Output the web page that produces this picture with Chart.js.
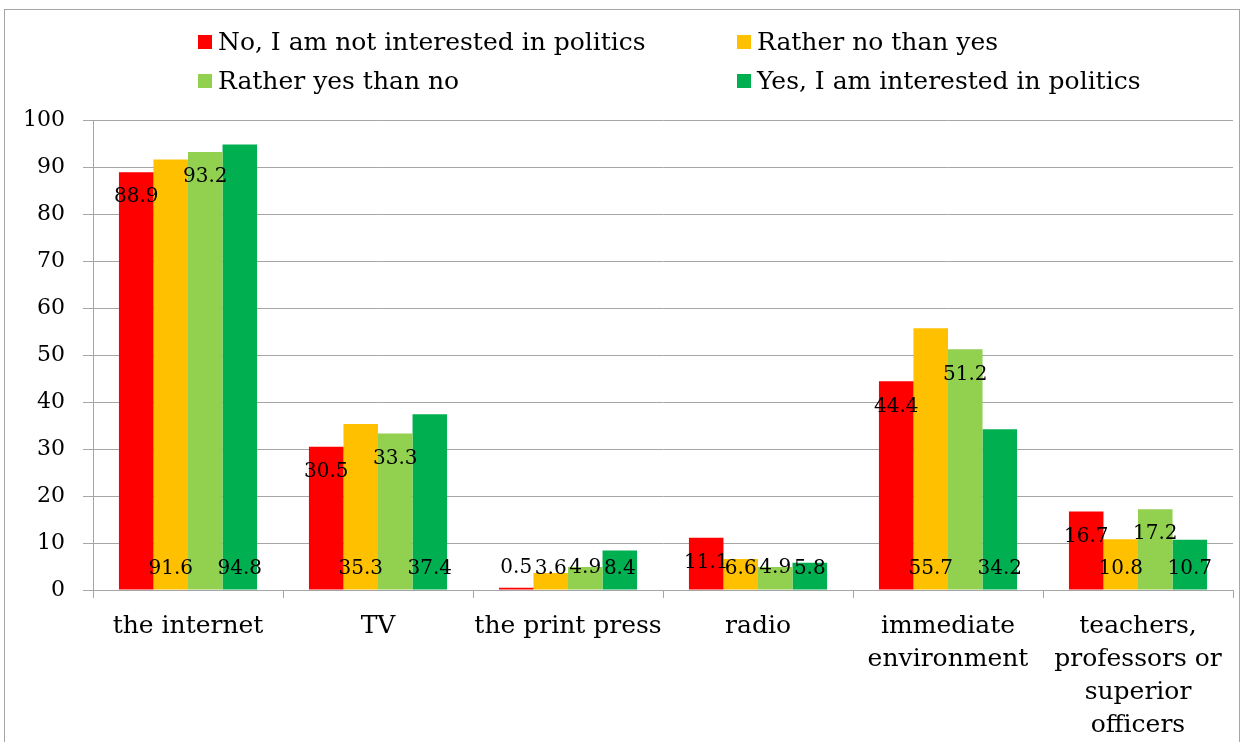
<!DOCTYPE html>
<html lang="en">
<head>
    <meta charset="UTF-8">
    <title>Sources of information by interest in politics</title>
    <script src="https://cdn.jsdelivr.net/npm/chart.js"></script>
    <style>
        body {
            margin: 0;
            padding: 0;
            background: #fff;
        }
        #wrap {
            width: 1245px;
            height: 742px;
        }
    </style>
</head>
<body>
    <div id="wrap">
        <canvas id="chart" width="1245" height="742"></canvas>
    </div>

    <script>
        // categories and series
        const categories = [
            'the internet',
            'TV',
            'the print press',
            'radio',
            ['immediate', 'environment'],
            ['teachers,', 'professors or', 'superior', 'officers']
        ];
        const seriesNames = [
            'No, I am not interested in politics',
            'Rather no than yes',
            'Rather yes than no',
            'Yes, I am interested in politics'
        ];
        const notInterested = [88.9, 30.5, 0.5, 11.1, 44.4, 16.7];
        const ratherNo = [91.6, 35.3, 3.6, 6.6, 55.7, 10.8];
        const ratherYes = [93.2, 33.3, 4.9, 4.9, 51.2, 17.2];
        const interested = [94.8, 37.4, 8.4, 5.8, 34.2, 10.7];
        const seriesColors = ['#FF0000', '#FFC000', '#92D050', '#00B050'];
        const yMin = 0, yMax = 100, yStep = 10;

        const serif = "'DejaVu Serif', Georgia, serif";
        const gridColor = '#a6a6a6';

        // legend in two columns, like the original
        const legendGrid = {
            id: 'legendGrid',
            afterDraw(chart) {
                const ctx = chart.ctx;
                const cols = [198, 737];
                const rows = [42, 81];
                ctx.save();
                ctx.font = '25px ' + serif;
                ctx.textBaseline = 'middle';
                ctx.textAlign = 'left';
                chart.data.datasets.forEach((ds, i) => {
                    const x = cols[i % 2];
                    const y = rows[Math.floor(i / 2)];
                    ctx.fillStyle = ds.backgroundColor;
                    ctx.fillRect(x, y - 7, 14, 14);
                    ctx.fillStyle = '#000';
                    ctx.fillText(ds.label, x + 20, y + 1);
                });
                ctx.restore();
            }
        };

        // value labels: red / light green inside end, orange / green inside base
        const valueLabels = {
            id: 'valueLabels',
            afterDatasetsDraw(chart) {
                const ctx = chart.ctx;
                ctx.save();
                ctx.font = '20px ' + serif;
                ctx.fillStyle = '#000';
                ctx.textAlign = 'center';
                ctx.textBaseline = 'middle';
                chart.data.datasets.forEach((ds, i) => {
                    const meta = chart.getDatasetMeta(i);
                    meta.data.forEach((bar, j) => {
                        let y;
                        if (i % 2 === 0) {
                            y = Math.min(bar.y + 25, bar.base - 22);
                        } else {
                            y = bar.base - 21;
                        }
                        ctx.fillText(String(ds.data[j]), bar.x, y);
                    });
                });
                ctx.restore();
            }
        };

        const frame = {
            id: 'frame',
            beforeDraw(chart) {
                const ctx = chart.ctx;
                ctx.save();
                ctx.fillStyle = '#fff';
                ctx.fillRect(0, 0, chart.width, chart.height);
                ctx.strokeStyle = gridColor;
                ctx.lineWidth = 1;
                ctx.strokeRect(4.5, 9.5, 1235, 800);
                ctx.restore();
            }
        };

        const seriesData = [notInterested, ratherNo, ratherYes, interested];

        new Chart(document.getElementById('chart'), {
            type: 'bar',
            data: {
                labels: categories,
                datasets: seriesData.map((d, i) => ({
                    label: seriesNames[i],
                    data: d,
                    backgroundColor: seriesColors[i],
                    borderWidth: 0,
                    categoryPercentage: 0.727,
                    barPercentage: 1.0
                }))
            },
            options: {
                responsive: false,
                animation: false,
                devicePixelRatio: 1,
                layout: {
                    padding: { top: 120, left: 0, right: 12, bottom: 0 }
                },
                plugins: {
                    legend: { display: false },
                    tooltip: { enabled: false }
                },
                scales: {
                    x: {
                        grid: {
                            display: true,
                            drawOnChartArea: false,
                            drawTicks: true,
                            tickLength: 8,
                            color: gridColor,
                            offset: true
                        },
                        border: { display: true, color: gridColor },
                        ticks: {
                            color: '#000',
                            font: { family: serif, size: 25, lineHeight: 1.32 },
                            padding: 12,
                            maxRotation: 0,
                            autoSkip: false
                        },
                        afterFit(scale) { scale.height = 152; }
                    },
                    y: {
                        min: yMin,
                        max: yMax,
                        grid: {
                            color: gridColor,
                            tickLength: 10
                        },
                        border: { display: true, color: gridColor },
                        ticks: {
                            stepSize: yStep,
                            color: '#000',
                            font: { family: serif, size: 22 },
                            padding: 18
                        },
                        afterFit(scale) { scale.width = 93; }
                    }
                }
            },
            plugins: [frame, valueLabels, legendGrid]
        });
    </script>
</body>
</html>
